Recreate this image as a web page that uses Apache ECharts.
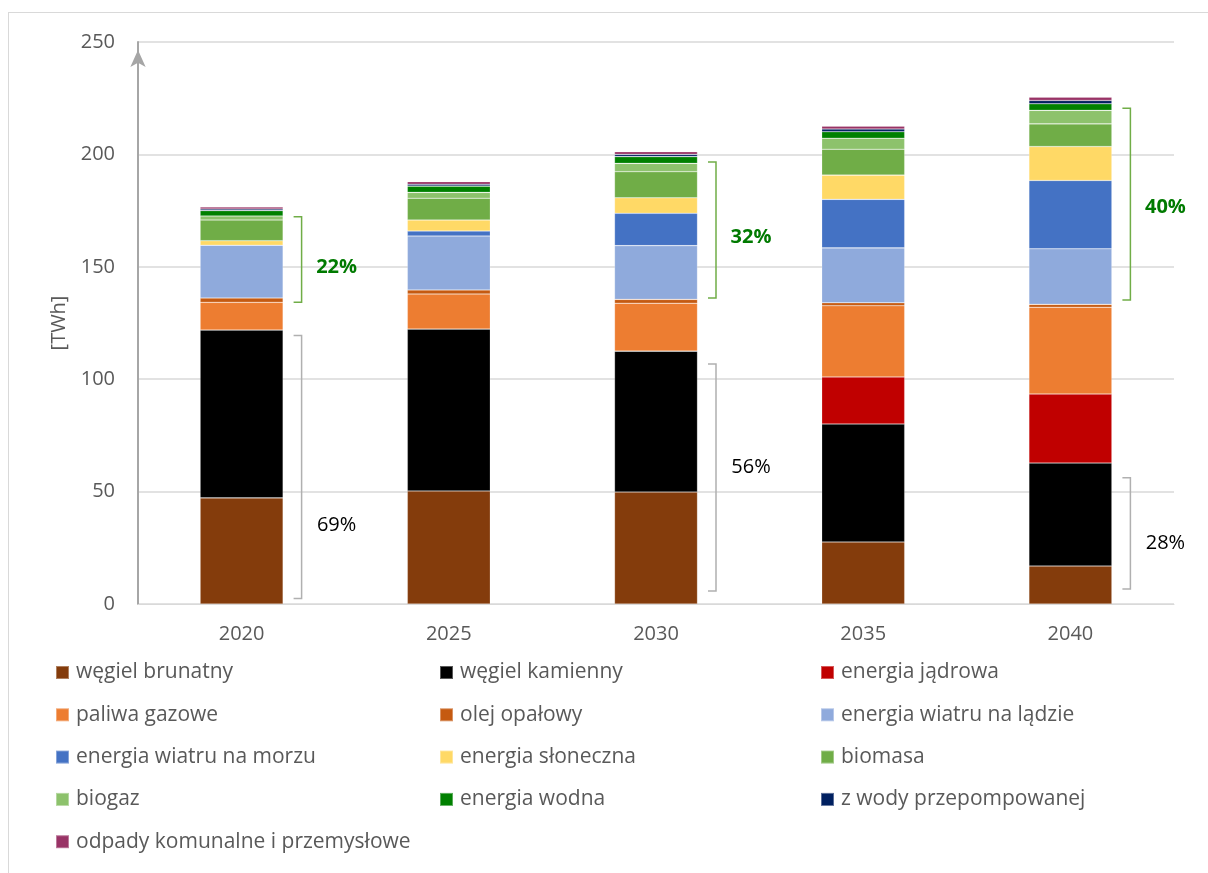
<!DOCTYPE html>
<html>
<head>
<meta charset="utf-8">
<script src="https://cdn.jsdelivr.net/npm/echarts@6/dist/echarts.min.js"></script>
<style>
html,body{margin:0;padding:0;background:#fff;overflow:hidden;}
#frame{position:absolute;left:8px;top:12px;width:1400px;height:1000px;border:1px solid #d9d9d9;}
#chart{position:absolute;left:0;top:0;width:1208px;height:873px;}
</style>
</head>
<body>
<div id="frame"></div>
<div id="chart"></div>
<script>
const categories = ['2020', '2025', '2030', '2035', '2040'];
const yTicks = { min: 0, max: 250, interval: 50 };

const wegielBrunatny   = [47.2, 50.3, 49.8, 27.6, 16.9];
const wegielKamienny   = [74.7, 72.0, 62.7, 52.5, 45.8];
const energiaJadrowa   = [0, 0, 0, 20.9, 30.7];
const paliwaGazowe     = [12.3, 15.6, 21.3, 31.7, 38.6];
const olejOpalowy      = [1.9, 1.8, 1.7, 1.3, 1.3];
const wiatrNaLadzie    = [23.5, 24.0, 23.9, 24.4, 24.7];
const wiatrNaMorzu     = [0, 2.2, 14.4, 21.6, 30.4];
const energiaSloneczna = [2.0, 4.9, 6.9, 10.8, 15.1];
const biomasa          = [9.2, 9.7, 11.6, 11.5, 10.1];
const biogaz           = [1.8, 2.6, 3.7, 4.9, 6.0];
const energiaWodna     = [2.4, 2.8, 3.0, 2.9, 2.9];
const zWodyPrzepomp    = [0.7, 0.8, 1.0, 1.2, 1.5];
const odpady           = [0.9, 1.2, 1.2, 1.3, 1.5];

// brackets: [category index, bottom, top, label value, label text]
const bracketsGreen = [
  [0, 134.2, 172.3, 149.9, '22%'],
  [2, 136.1, 196.6, 163.1, '32%'],
  [4, 135.2, 220.5, 176.6, '40%']
];
const bracketsGray = [
  [0, 2.5, 119.4, 35.1, '69%'],
  [2, 5.8, 106.8, 60.8, '56%'],
  [4, 6.7, 56.2, 27.1, '28%']
];

const seriesDefs = [
  ['węgiel brunatny', wegielBrunatny, '#843C0C'],
  ['węgiel kamienny', wegielKamienny, '#000000'],
  ['energia jądrowa', energiaJadrowa, '#C00000'],
  ['paliwa gazowe', paliwaGazowe, '#ED7D31'],
  ['olej opałowy', olejOpalowy, '#C55A11'],
  ['energia wiatru na lądzie', wiatrNaLadzie, '#8FAADC'],
  ['energia wiatru na morzu', wiatrNaMorzu, '#4472C4'],
  ['energia słoneczna', energiaSloneczna, '#FFD966'],
  ['biomasa', biomasa, '#70AD47'],
  ['biogaz', biogaz, '#8DC26C'],
  ['energia wodna', energiaWodna, '#008000'],
  ['z wody przepompowanej', zWodyPrzepomp, '#002060'],
  ['odpady komunalne i przemysłowe', odpady, '#993366']
];

const FONT = '"Open Sans", "Liberation Sans", sans-serif';
const TXT = '#595959';

const barSeries = seriesDefs.map(([name, data, color]) => ({
  name: name,
  type: 'bar',
  stack: 'total',
  data: data,
  barWidth: 83,
  itemStyle: { color: color, borderColor: 'rgba(255,255,255,0.35)', borderWidth: 0.6 },
  emphasis: { disabled: true }
}));

function bracketSeries(data, lineColor, textColor, bold) {
  return {
    type: 'custom',
    coordinateSystem: 'cartesian2d',
    data: data,
    encode: { x: 0, y: [1, 2] },
    clip: false,
    silent: true,
    z: 5,
    renderItem: function (params, api) {
      const idx = api.value(0);
      const pb = api.coord([idx, api.value(1)]);
      const pt = api.coord([idx, api.value(2)]);
      const pl = api.coord([idx, api.value(3)]);
      const text = data[params.dataIndex][4];
      const x0 = pb[0] + 52, x1 = pb[0] + 60;
      return {
        type: 'group',
        children: [
          {
            type: 'polyline',
            shape: { points: [[x0, pt[1]], [x1, pt[1]], [x1, pb[1]], [x0, pb[1]]] },
            style: { stroke: lineColor, lineWidth: 1.5, fill: null }
          },
          {
            type: 'text',
            x: pb[0] + 95,
            y: pl[1],
            style: {
              text: text,
              fill: textColor,
              font: (bold ? 'bold ' : '') + '20px ' + FONT,
              align: 'center',
              verticalAlign: 'middle'
            }
          }
        ]
      };
    }
  };
}

const col1 = ['węgiel brunatny', 'paliwa gazowe', 'energia wiatru na morzu', 'biogaz', 'odpady komunalne i przemysłowe'];
const col2 = ['węgiel kamienny', 'olej opałowy', 'energia słoneczna', 'energia wodna'];
const col3 = ['energia jądrowa', 'energia wiatru na lądzie', 'biomasa', 'z wody przepompowanej'];

function legendCol(data, left) {
  return {
    data: data,
    orient: 'vertical',
    left: left,
    top: 662,
    padding: 0,
    itemGap: 21.3,
    itemWidth: 13,
    itemHeight: 13,
    icon: 'rect',
    selectedMode: false,
    textStyle: { color: TXT, fontFamily: FONT, fontSize: 21, lineHeight: 21, padding: [0, 0, 0, 2] }
  };
}

const chart = echarts.init(document.getElementById('chart'), null, { renderer: 'canvas' });
chart.setOption({
  animation: false,
  backgroundColor: 'transparent',
  grid: { left: 138, right: 34, top: 42, bottom: 269, containLabel: false },
  legend: [legendCol(col1, 55), legendCol(col2, 439), legendCol(col3, 820)],
  xAxis: {
    type: 'category',
    data: categories,
    axisTick: { show: false },
    axisLine: { lineStyle: { color: '#d9d9d9', width: 1 } },
    axisLabel: { color: TXT, fontFamily: FONT, fontSize: 20, margin: 20 }
  },
  yAxis: {
    type: 'value',
    min: yTicks.min,
    max: yTicks.max,
    interval: yTicks.interval,
    name: '[TWh]',
    nameLocation: 'middle',
    nameGap: 63,
    nameTextStyle: { color: TXT, fontFamily: FONT, fontSize: 20 },
    axisLine: {
      show: true,
      lineStyle: { color: '#a6a6a6', width: 2 },
      symbol: ['none', 'arrow'],
      symbolSize: [11.5, 17],
      symbolOffset: [0, -8]
    },
    axisTick: { show: false },
    axisLabel: { color: TXT, fontFamily: FONT, fontSize: 20, margin: 23 },
    splitLine: { lineStyle: { color: '#d9d9d9', width: 1.5 } }
  },
  series: barSeries.concat([
    bracketSeries(bracketsGreen, '#70AD47', '#007A00', true),
    bracketSeries(bracketsGray, '#b0b0b0', '#000000', false)
  ])
});
</script>
</body>
</html>
